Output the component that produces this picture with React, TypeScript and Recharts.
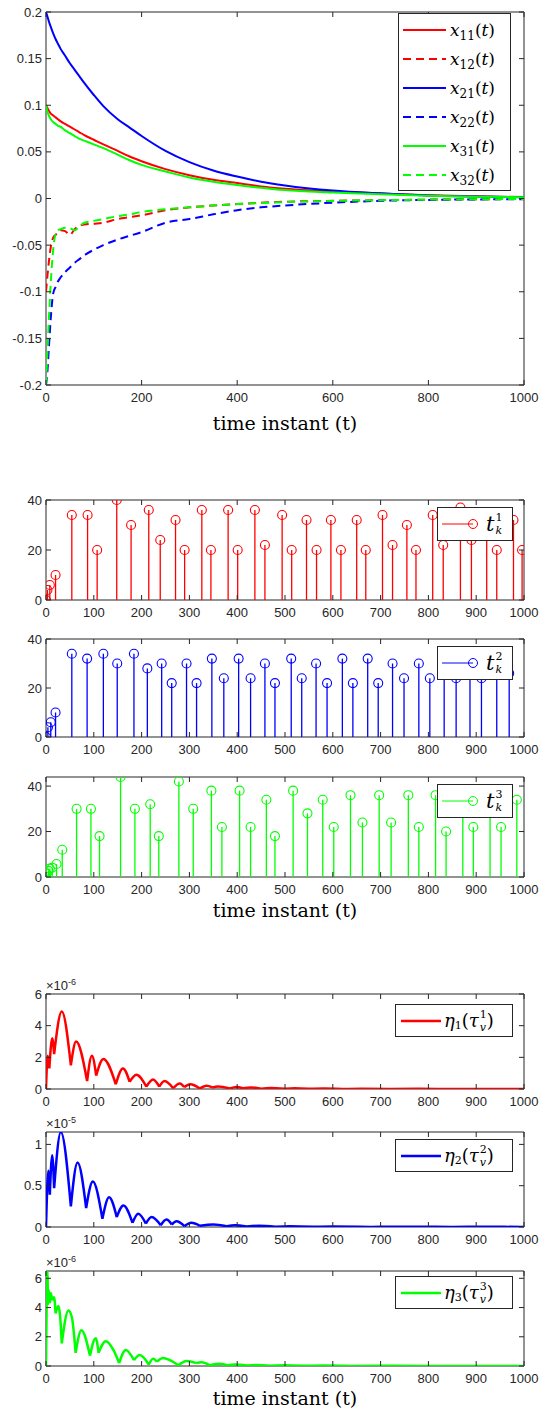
import {
  LineChart, Line, ScatterChart, Scatter, ErrorBar, XAxis, YAxis, ReferenceArea, Legend,
} from 'recharts';

const RED = '#ff0000';
const BLUE = '#0000ff';
const GREEN = '#00ff00';
const AXIS = '#262626';
const TICK_FONT = '"Liberation Sans", Arial, sans-serif';
const MATH_FONT = '"DejaVu Serif", serif';

// ---- state trajectories x_ij(t) ----
const tState = [0, 3, 6, 10, 15, 20, 25, 30, 40, 50, 60, 70, 80, 100, 120, 150, 175, 200, 250, 300, 350, 400, 450, 500, 600, 700, 800, 900, 1000];
const x11 = [0.1, 0.097, 0.094, 0.091, 0.089, 0.087, 0.085, 0.083, 0.080, 0.077, 0.074, 0.071, 0.068, 0.063, 0.058, 0.051, 0.045, 0.040, 0.0315, 0.025, 0.020, 0.0165, 0.013, 0.0105, 0.0075, 0.0054, 0.0035, 0.0023, 0.0015];
const x12 = [-0.1, -0.083, -0.068, -0.052, -0.042, -0.039, -0.037, -0.034, -0.035, -0.039, -0.033, -0.029, -0.028, -0.027, -0.026, -0.022, -0.020, -0.018, -0.0125, -0.0095, -0.0075, -0.006, -0.0045, -0.0035, -0.0025, -0.0018, -0.0012, -0.0008, -0.0005];
const x21 = [0.2, 0.195, 0.19, 0.184, 0.177, 0.171, 0.166, 0.161, 0.153, 0.145, 0.138, 0.131, 0.124, 0.111, 0.099, 0.085, 0.076, 0.067, 0.051, 0.039, 0.030, 0.0235, 0.018, 0.014, 0.0085, 0.0055, 0.0033, 0.0021, 0.0013];
const x22 = [-0.2, -0.185, -0.16, -0.128, -0.102, -0.095, -0.089, -0.085, -0.079, -0.074, -0.069, -0.065, -0.061, -0.055, -0.050, -0.044, -0.040, -0.036, -0.026, -0.022, -0.017, -0.0125, -0.0095, -0.0075, -0.0045, -0.0025, -0.0015, -0.001, -0.0007];
const x31 = [0.1, 0.093, 0.089, 0.085, 0.082, 0.080, 0.078, 0.077, 0.073, 0.070, 0.067, 0.064, 0.062, 0.058, 0.054, 0.047, 0.041, 0.036, 0.029, 0.0225, 0.018, 0.0145, 0.0115, 0.009, 0.0065, 0.0046, 0.003, 0.002, 0.0013];
const x32 = [-0.2, -0.165, -0.13, -0.09, -0.055, -0.038, -0.034, -0.033, -0.0315, -0.032, -0.034, -0.030, -0.026, -0.024, -0.022, -0.019, -0.017, -0.0145, -0.0115, -0.0095, -0.0075, -0.006, -0.0048, -0.0038, -0.0026, -0.0018, -0.0012, -0.0008, -0.0005];

// ---- triggering instants t_k^i and inter-event intervals ----
const tk1Time = [0, 3, 8, 20, 54, 87, 107, 148, 178, 215, 239, 271, 290, 326, 345, 381, 401, 437, 458, 494, 514, 545, 566, 596, 617, 650, 669, 704, 725, 755, 774, 809, 831, 867, 890, 922, 943, 978, 996];
const tk1Val = [0, 4, 6, 10, 34, 34, 20, 40, 30, 36, 24, 32, 20, 36, 20, 36, 20, 36, 22, 34, 20, 32, 20, 32, 20, 32, 20, 34, 22, 30, 20, 34, 22, 37, 24, 34, 20, 32, 20];
const tk2Time = [0, 4, 10, 20, 54, 86, 120, 149, 184, 212, 242, 263, 294, 315, 347, 372, 403, 428, 458, 479, 513, 535, 565, 588, 620, 642, 673, 695, 725, 749, 780, 803, 833, 858, 887, 911, 943, 969];
const tk2Val = [0, 4, 6, 10, 34, 32, 34, 30, 34, 28, 30, 22, 30, 22, 32, 24, 32, 24, 30, 22, 32, 24, 30, 22, 32, 22, 32, 22, 30, 24, 30, 24, 30, 24, 32, 24, 30, 26];
const tk3Time = [1, 5, 8, 13, 22, 34, 64, 94, 112, 156, 186, 218, 236, 278, 308, 346, 368, 405, 428, 461, 479, 517, 547, 579, 602, 637, 662, 697, 722, 758, 780, 815, 837, 872, 894, 929, 952, 985];
const tk3Val = [1.5, 2.7, 3.7, 4.1, 5.7, 12, 30, 30, 18, 44, 30, 32, 18, 42, 30, 38, 22, 38, 22, 34, 18, 38, 28, 34, 22, 36, 24, 36, 24, 36, 22, 36, 20, 36, 22, 36, 22, 34];

// ---- eta_i(tau_v^i); arches restart at each cusp ----
// eta1, eta3 in units of 1e-6, eta2 in units of 1e-5
const eta1Time = [0, 3.5, 7, 13, 17, 33, 52, 63, 86, 96, 105, 120, 146, 161, 175, 189, 210, 224, 237, 248, 266, 280, 289, 302, 322, 336, 348, 360, 385, 398, 412, 428, 450, 470, 500, 520, 550, 580, 620, 660, 720, 780, 850, 920, 1000];
const eta1Val = [0, 2.1, 1.3, 3.2, 2.2, 4.9, 1.5, 3.0, 0.5, 2.1, 0.85, 1.9, 0.3, 1.3, 0.45, 0.9, 0.15, 0.6, 0.15, 0.5, 0.05, 0.35, 0.12, 0.3, 0.03, 0.2, 0.1, 0.16, 0.03, 0.13, 0.05, 0.1, 0.02, 0.07, 0.01, 0.05, 0.01, 0.03, 0.005, 0.02, 0.003, 0.01, 0.002, 0.006, 0.002];
const eta1Cusps = [7, 17, 52, 86, 105, 146, 175, 210, 237, 266, 289, 322, 348, 385, 412, 450, 500, 550, 620, 720, 850];

const eta2Time = [0, 5, 8, 13, 17, 31, 52, 66, 84, 98, 118, 132, 148, 162, 181, 193, 209, 221, 240, 252, 263, 273, 290, 304, 322, 350, 378, 395, 420, 445, 480, 510, 560, 600, 680, 750, 850, 920, 1000];
const eta2Val = [0, 0.68, 0.39, 0.87, 0.47, 1.15, 0.25, 0.78, 0.23, 0.55, 0.1, 0.36, 0.12, 0.26, 0.05, 0.16, 0.04, 0.12, 0.02, 0.09, 0.03, 0.07, 0.01, 0.05, 0.015, 0.03, 0.01, 0.02, 0.005, 0.015, 0.003, 0.01, 0.002, 0.006, 0.001, 0.004, 0.001, 0.002, 0.001];
const eta2Cusps = [8, 17, 52, 84, 118, 148, 181, 209, 240, 263, 290, 322, 378, 420, 480, 560, 680, 850];

const eta3Time = [0, 3, 4, 6, 8, 10, 13, 17, 20, 26, 29, 33, 47, 54, 62, 74, 92, 104, 110, 125, 141, 153, 167, 184, 196, 215, 224, 232, 245, 259, 277, 294, 315, 325, 343, 364, 380, 395, 420, 440, 470, 500, 540, 580, 640, 700, 780, 860, 940, 1000];
const eta3Val = [0, 6.5, 4.2, 5.2, 4.3, 5.0, 4.5, 4.7, 3.6, 4.1, 3.6, 1.55, 3.8, 3.35, 0.9, 2.45, 0.7, 1.9, 0.9, 1.7, 1.1, 0.2, 1.1, 0.4, 0.75, 0.1, 0.5, 0.3, 0.55, 0.4, 0.05, 0.35, 0.2, 0.25, 0.05, 0.15, 0.05, 0.1, 0.03, 0.07, 0.02, 0.05, 0.01, 0.03, 0.005, 0.015, 0.003, 0.008, 0.002, 0.004];
const eta3Cusps = [4, 8, 13, 20, 33, 62, 92, 110, 153, 184, 215, 232, 277, 315, 343, 380, 420, 470, 540, 640, 780, 940];

const xTicks100 = [0, 100, 200, 300, 400, 500, 600, 700, 800, 900, 1000];
const xTicks200 = [0, 200, 400, 600, 800, 1000];

const PAGE_W = 540;
const PLOT_LEFT = 46;
const PLOT_RIGHT = 524;
const PLOT_W = PLOT_RIGHT - PLOT_LEFT;
const TOP_PAD = 14;
const AXIS_H = 40;

type Box = { top: number; bottom: number };

const boxes = {
  state: { top: 12, bottom: 385 },
  tk1: { top: 500, bottom: 600 },
  tk2: { top: 639, bottom: 737 },
  tk3: { top: 777, bottom: 877 },
  eta1: { top: 994, bottom: 1089 },
  eta2: { top: 1132, bottom: 1227 },
  eta3: { top: 1271, bottom: 1366 },
};

const chartSize = (b: Box) => ({
  width: PAGE_W,
  height: b.bottom - b.top + TOP_PAD + AXIS_H,
  margin: { top: TOP_PAD, right: PAGE_W - PLOT_RIGHT, bottom: 0, left: 0 },
});

// inward ticks on both bottom and top edges, label under the bottom one
const xTick = (plotH: number) => (p: any) => (
  <g>
    <line x1={p.x} x2={p.x} y1={p.y} y2={p.y - 5} stroke={AXIS} />
    <line x1={p.x} x2={p.x} y1={p.y - plotH} y2={p.y - plotH + 5} stroke={AXIS} />
    <text x={p.x} y={p.y + 17} textAnchor="middle" fontFamily={TICK_FONT} fontSize={13} fill={AXIS}>
      {p.payload.value}
    </text>
  </g>
);

const yTick = (p: any) => (
  <g>
    <line x1={p.x} x2={p.x + 5} y1={p.y} y2={p.y} stroke={AXIS} />
    <line x1={p.x + PLOT_W} x2={p.x + PLOT_W - 5} y1={p.y} y2={p.y} stroke={AXIS} />
    <text x={p.x - 4} y={p.y + 4.5} textAnchor="end" fontFamily={TICK_FONT} fontSize={13} fill={AXIS}>
      {p.payload.value}
    </text>
  </g>
);

const stateRows = tState.map((t, i) => ({
  t, x11: x11[i], x12: x12[i], x21: x21[i], x22: x22[i], x31: x31[i], x32: x32[i],
}));

const stemRows = (time: number[], val: number[]) =>
  time.map((t, i) => ({ t, h: val[i], err: [val[i], 0] }));

// a null row after each cusp splits the line so every arch is its own curve
const archRows = (time: number[], val: number[], cusps: number[]) => {
  const rows: { t: number; v: number | null }[] = [];
  time.forEach((t, i) => {
    rows.push({ t, v: val[i] });
    if (cusps.includes(t)) {
      rows.push({ t, v: null });
      rows.push({ t, v: val[i] });
    }
  });
  return rows;
};

const stateSeries = [
  { key: 'x11', sub: '11', color: RED, dash: undefined },
  { key: 'x12', sub: '12', color: RED, dash: '8 5' },
  { key: 'x21', sub: '21', color: BLUE, dash: undefined },
  { key: 'x22', sub: '22', color: BLUE, dash: '8 5' },
  { key: 'x31', sub: '31', color: GREEN, dash: undefined },
  { key: 'x32', sub: '32', color: GREEN, dash: '8 5' },
];

const legendBox = {
  border: `1px solid ${AXIS}`,
  background: '#fff',
  boxSizing: 'border-box' as const,
  color: '#000',
  fontFamily: MATH_FONT,
};

function StateLegend() {
  return (
    <div style={{ ...legendBox, width: 113, padding: '1px 0' }}>
      {stateSeries.map((s) => (
        <div key={s.key} style={{ display: 'flex', alignItems: 'center', height: 29 }}>
          <svg width={51} height={8}>
            <line x1={4} x2={47} y1={4} y2={4} stroke={s.color} strokeWidth={2} strokeDasharray={s.dash} />
          </svg>
          <span style={{ fontSize: 17, whiteSpace: 'nowrap' }}>
            <i>x</i>
            <span style={{ fontSize: 12, position: 'relative', top: 4 }}>{s.sub}</span>(<i>t</i>)
          </span>
        </div>
      ))}
    </div>
  );
}

// superscript stacked over subscript, as in t_k^1
function Stacked({ sup, sub }: { sup: string; sub: string }) {
  return (
    <span style={{ display: 'inline-flex', flexDirection: 'column', fontSize: 11, lineHeight: '13px', verticalAlign: 'middle', marginLeft: 1 }}>
      <span>{sup}</span>
      <i>{sub}</i>
    </span>
  );
}

function StemLegend({ color, idx }: { color: string; idx: string }) {
  return (
    <div style={{ ...legendBox, width: 76, height: 34, display: 'flex', alignItems: 'center' }}>
      <svg width={48} height={12}>
        <line x1={4} x2={35} y1={6} y2={6} stroke={color} />
        <circle cx={35} cy={6} r={4.5} fill="none" stroke={color} />
      </svg>
      <span style={{ fontSize: 21, fontStyle: 'italic' }}>t</span>
      <Stacked sup={idx} sub="k" />
    </div>
  );
}

function EtaLegend({ color, idx }: { color: string; idx: string }) {
  return (
    <div style={{ ...legendBox, width: 118, height: 33, display: 'flex', alignItems: 'center' }}>
      <svg width={48} height={8}>
        <line x1={5} x2={45} y1={4} y2={4} stroke={color} strokeWidth={2.5} />
      </svg>
      <span style={{ fontSize: 18, whiteSpace: 'nowrap', display: 'inline-flex', alignItems: 'center' }}>
        <i>η</i>
        <span style={{ fontSize: 11, position: 'relative', top: 5 }}>{idx}</span>
        <span>(</span>
        <i>τ</i>
        <Stacked sup={idx} sub="v" />
        <span>)</span>
      </span>
    </div>
  );
}

function legendAt(b: Box, left: number, top: number, node: any) {
  return (
    <Legend
      layout="vertical"
      align="center"
      verticalAlign="middle"
      wrapperStyle={{ left, top: top - (b.top - TOP_PAD), width: 'auto', height: 'auto' }}
      content={() => node}
    />
  );
}

function StatePanel() {
  const b = boxes.state;
  return (
    <LineChart {...chartSize(b)} data={stateRows}>
      <XAxis type="number" dataKey="t" domain={[0, 1000]} ticks={xTicks200} interval={0} allowDataOverflow
        tick={xTick(b.bottom - b.top)} tickSize={0} tickMargin={0} axisLine={false} tickLine={false} height={AXIS_H} />
      <YAxis type="number" domain={[-0.2, 0.2]} ticks={[-0.2, -0.15, -0.1, -0.05, 0, 0.05, 0.1, 0.15, 0.2]} interval={0}
        allowDataOverflow tick={yTick} tickSize={0} tickMargin={0} axisLine={false} tickLine={false} width={PLOT_LEFT} />
      <ReferenceArea x1={0} x2={1000} y1={-0.2} y2={0.2} fill="none" stroke={AXIS} ifOverflow="visible" />
      {stateSeries.map((s) => (
        <Line key={s.key} dataKey={s.key} type="monotone" stroke={s.color} strokeWidth={2}
          strokeDasharray={s.dash} dot={false} isAnimationActive={false} />
      ))}
      {legendAt(b, 398, 13, <StateLegend />)}
    </LineChart>
  );
}

function StemPanel({ b, time, val, color, idx, yMax }: { b: Box; time: number[]; val: number[]; color: string; idx: string; yMax: number }) {
  return (
    <ScatterChart {...chartSize(b)}>
      <XAxis type="number" dataKey="t" domain={[0, 1000]} ticks={xTicks100} interval={0} allowDataOverflow
        tick={xTick(b.bottom - b.top)} tickSize={0} tickMargin={0} axisLine={false} tickLine={false} height={AXIS_H} />
      <YAxis type="number" dataKey="h" domain={[0, yMax]} ticks={[0, 20, 40]} interval={0} allowDataOverflow
        tick={yTick} tickSize={0} tickMargin={0} axisLine={false} tickLine={false} width={PLOT_LEFT} />
      <ReferenceArea x1={0} x2={1000} y1={0} y2={yMax} fill="none" stroke={AXIS} ifOverflow="visible" />
      <Scatter data={stemRows(time, val)} isAnimationActive={false}
        shape={(p: any) => <circle cx={p.cx} cy={p.cy} r={4.5} fill="none" stroke={color} strokeWidth={1.1} />}>
        <ErrorBar dataKey="err" direction="y" width={0} stroke={color} strokeWidth={1.3} isAnimationActive={false} />
      </Scatter>
      {legendAt(b, 437, b.top + 7, <StemLegend color={color} idx={idx} />)}
    </ScatterChart>
  );
}

function EtaPanel({ b, rows, color, idx, yMax, ticks, legendTop }: { b: Box; rows: any[]; color: string; idx: string; yMax: number; ticks: number[]; legendTop: number }) {
  return (
    <LineChart {...chartSize(b)} data={rows}>
      <XAxis type="number" dataKey="t" domain={[0, 1000]} ticks={xTicks100} interval={0} allowDataOverflow
        tick={xTick(b.bottom - b.top)} tickSize={0} tickMargin={0} axisLine={false} tickLine={false} height={AXIS_H} />
      <YAxis type="number" domain={[0, yMax]} ticks={ticks} interval={0} allowDataOverflow
        tick={yTick} tickSize={0} tickMargin={0} axisLine={false} tickLine={false} width={PLOT_LEFT} />
      <ReferenceArea x1={0} x2={1000} y1={0} y2={yMax} fill="none" stroke={AXIS} ifOverflow="visible" />
      <Line dataKey="v" type="monotone" stroke={color} strokeWidth={2.5} dot={false} connectNulls={false} isAnimationActive={false} />
      {legendAt(b, 395, legendTop, <EtaLegend color={color} idx={idx} />)}
    </LineChart>
  );
}

function Placed({ b, children }: { b: Box; children: any }) {
  return <div style={{ position: 'absolute', left: 0, top: b.top - TOP_PAD }}>{children}</div>;
}

function XLabel({ y }: { y: number }) {
  return (
    <div style={{ position: 'absolute', left: PLOT_LEFT, width: PLOT_W, top: y - 12, lineHeight: '24px', textAlign: 'center', fontFamily: MATH_FONT, fontSize: 19, color: '#000' }}>
      time instant (t)
    </div>
  );
}

function Exponent({ y, exp }: { y: number; exp: string }) {
  return (
    <div style={{ position: 'absolute', left: PLOT_LEFT, top: y - 12, fontFamily: TICK_FONT, fontSize: 13, color: AXIS, lineHeight: '14px' }}>
      ×10<span style={{ fontSize: 9, position: 'relative', top: -5 }}>{exp}</span>
    </div>
  );
}

export default function App() {
  return (
    <div style={{ position: 'absolute', left: 0, top: 0, width: PAGE_W, height: 1412, background: '#fff', overflow: 'hidden' }}>
      <Placed b={boxes.state}><StatePanel /></Placed>
      <XLabel y={423} />

      <Placed b={boxes.tk1}><StemPanel b={boxes.tk1} time={tk1Time} val={tk1Val} color={RED} idx="1" yMax={40} /></Placed>
      <Placed b={boxes.tk2}><StemPanel b={boxes.tk2} time={tk2Time} val={tk2Val} color={BLUE} idx="2" yMax={40} /></Placed>
      <Placed b={boxes.tk3}><StemPanel b={boxes.tk3} time={tk3Time} val={tk3Val} color={GREEN} idx="3" yMax={44} /></Placed>
      <XLabel y={910} />

      <Placed b={boxes.eta1}>
        <EtaPanel b={boxes.eta1} rows={archRows(eta1Time, eta1Val, eta1Cusps)} color={RED} idx="1" yMax={6} ticks={[0, 2, 4, 6]} legendTop={1004} />
      </Placed>
      <Exponent y={991} exp="-6" />
      <Placed b={boxes.eta2}>
        <EtaPanel b={boxes.eta2} rows={archRows(eta2Time, eta2Val, eta2Cusps)} color={BLUE} idx="2" yMax={1.15} ticks={[0, 0.5, 1]} legendTop={1139} />
      </Placed>
      <Exponent y={1129} exp="-5" />
      <Placed b={boxes.eta3}>
        <EtaPanel b={boxes.eta3} rows={archRows(eta3Time, eta3Val, eta3Cusps)} color={GREEN} idx="3" yMax={6.5} ticks={[0, 2, 4, 6]} legendTop={1276} />
      </Placed>
      <Exponent y={1268} exp="-6" />
      <XLabel y={1398} />
    </div>
  );
}
